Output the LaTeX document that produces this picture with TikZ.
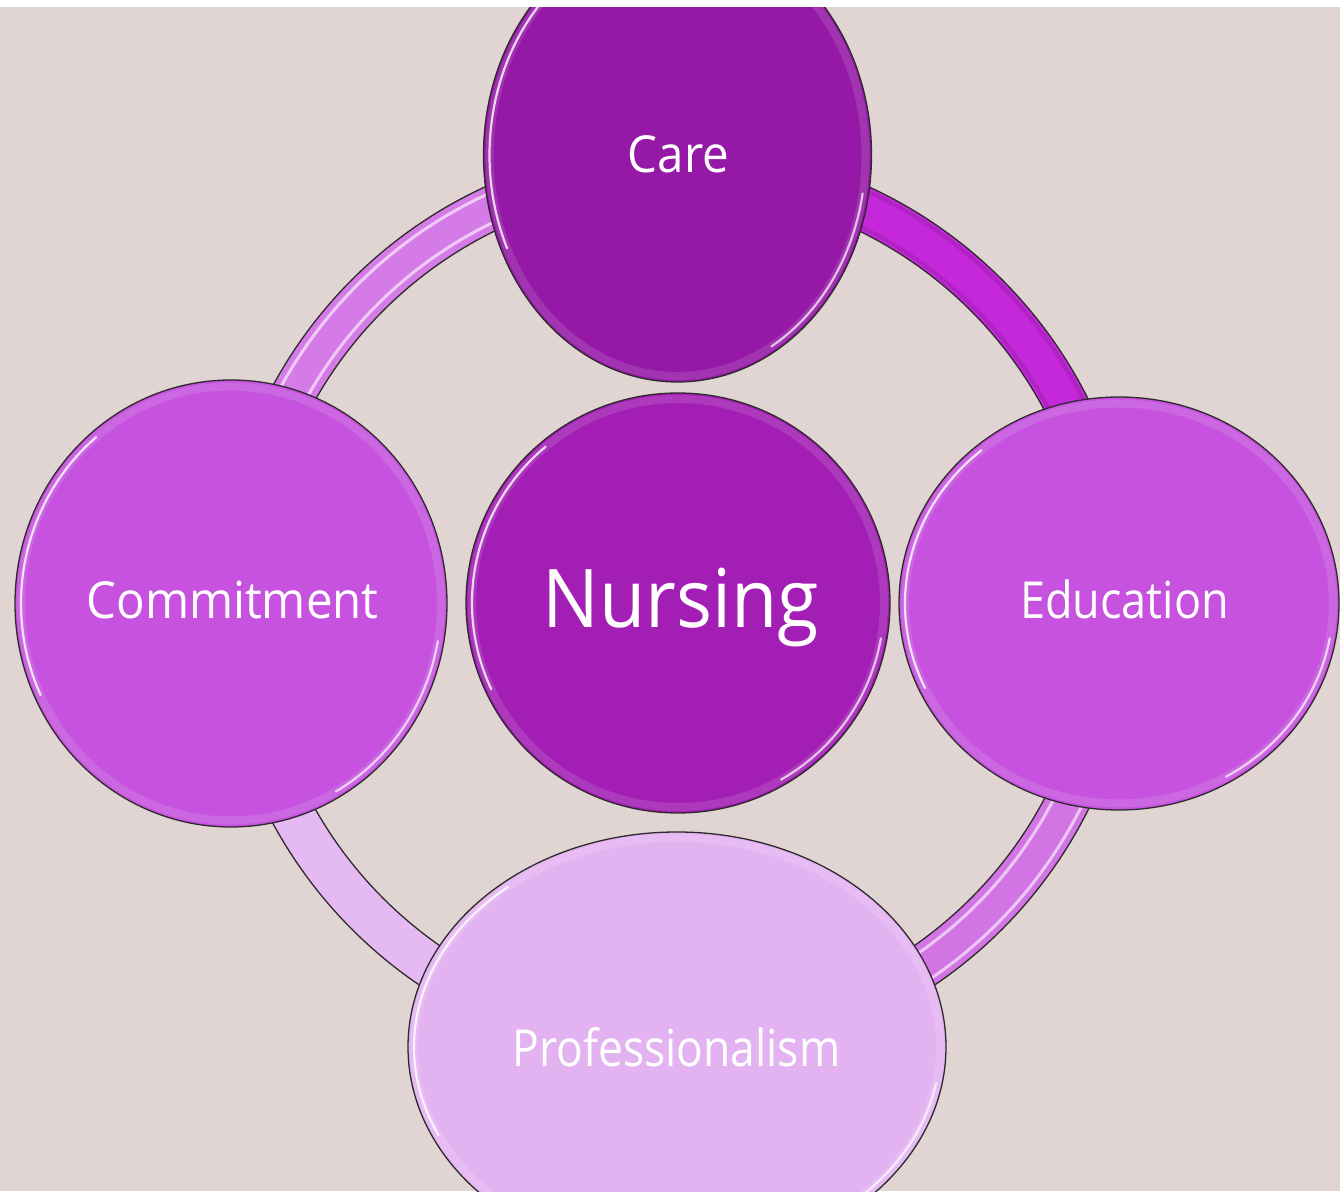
\documentclass[tikz,border=0pt]{standalone}
\usepackage{fontspec}
\setmainfont{Open Sans}[FakeStretch=0.93]
\usetikzlibrary{shapes.geometric}

\definecolor{bgc}{HTML}{E0D5D2}
\definecolor{carec}{HTML}{9519A6}
\definecolor{nursec}{HTML}{A21EB4}
\definecolor{midc}{HTML}{C652DF}
\definecolor{profc}{HTML}{E3B3F1}
\definecolor{ringUL}{HTML}{D57BE7}
\definecolor{ringUR}{HTML}{C428DA}
\definecolor{ringLR}{HTML}{D274E4}
\definecolor{ringLL}{HTML}{E5B9F1}
\definecolor{edgec}{HTML}{2E2A2C}

% gloss arcs inside a round node: #1 node, #2/#3 inset radii
\newcommand\shinearcs[3]{%
  \draw[white, opacity=.12, line width=8] (#1.center) ellipse[x radius=#2, y radius=#3];
  \draw[white, opacity=.8, line width=2.2, line cap=round]
    (#1.center) ++(130:#2 and #3) arc[start angle=130, end angle=205, x radius=#2, y radius=#3];
  \draw[white, opacity=.7, line width=2.2, line cap=round]
    (#1.center) ++(-10:#2 and #3) arc[start angle=-10, end angle=-60, x radius=#2, y radius=#3];
}

\begin{document}
\begin{tikzpicture}[x=1pt, y=1pt,
  bubble/.style={ellipse, draw=edgec, line width=1.3pt, inner sep=0pt},
  word/.style={text=white, anchor=base, inner sep=0pt, font=\fontsize{51}{60}\selectfont},
  bigword/.style={text=white, anchor=base, inner sep=0pt, font=\fontsize{81}{95}\selectfont},
  ringband/.style={line width=44pt}]

% canvas
\useasboundingbox (0,0) rectangle (1340,1191);
\fill[bgc] (0,0) rectangle (1340,1191);

\begin{scope}
\clip (0,0) rectangle (1340,1184);

% cycle ring, one colour per quarter
\coordinate (hub) at (677,586.5);
\draw[ringband, ringUR] (hub) ++(0:437.5) arc[start angle=0, end angle=90, radius=437.5];
\draw[ringband, ringUL] (hub) ++(90:437.5) arc[start angle=90, end angle=180, radius=437.5];
\draw[ringband, ringLL] (hub) ++(180:437.5) arc[start angle=180, end angle=270, radius=437.5];
\draw[ringband, ringLR] (hub) ++(270:437.5) arc[start angle=270, end angle=360, radius=437.5];
% glossy stripes on the lighter quarters
\foreach \r in {452,424}{
  \draw[white, opacity=.6, line width=3] (hub) ++(100:\r) arc[start angle=100, end angle=170, radius=\r];
  \draw[white, opacity=.6, line width=3] (hub) ++(280:\r) arc[start angle=280, end angle=350, radius=\r];
}
\draw[ringUR!70!black, opacity=.35, line width=4] (hub) ++(5:455) arc[start angle=5, end angle=85, radius=455];
\draw[ringUR!70!black, opacity=.35, line width=4] (hub) ++(5:420) arc[start angle=5, end angle=85, radius=420];
\draw[edgec, line width=1.3pt] (hub) circle[radius=459.5];
\draw[edgec, line width=1.3pt] (hub) circle[radius=415.5];

% the five circles
\node[bubble, fill=carec, minimum width=388, minimum height=454] (care) at (677.5,1036) {};
\node[bubble, fill=nursec, minimum width=424, minimum height=420] (nursing) at (678,588) {};
\node[bubble, fill=midc, minimum width=432, minimum height=447] (commit) at (231,587.5) {};
\node[bubble, fill=midc, minimum width=440, minimum height=413] (educ) at (1119,587.5) {};
\node[bubble, fill=profc, minimum width=538, minimum height=430] (prof) at (677,144) {};

\shinearcs{care}{188}{221}
\shinearcs{nursing}{206}{204}
\shinearcs{commit}{210}{217}
\shinearcs{educ}{214}{200}
\shinearcs{prof}{263}{209}

% labels
\node[word] (tcare) at (678.5,1018) {Care};
\node[bigword] (tnurse) at (680.5,563) {Nursing};
\node[word] (tcommit) at (232.5,572) {Commitment};
\node[word] (teduc) at (1124.5,572) {\scalebox{0.95}[1]{Education}};
\node[word] (tprof) at (676.5,125) {\scalebox{0.935}[1]{Professionalism}};
\end{scope}

% white strip along the top edge
\fill[white] (0,1184) rectangle (1340,1191);
\end{tikzpicture}
\end{document}
